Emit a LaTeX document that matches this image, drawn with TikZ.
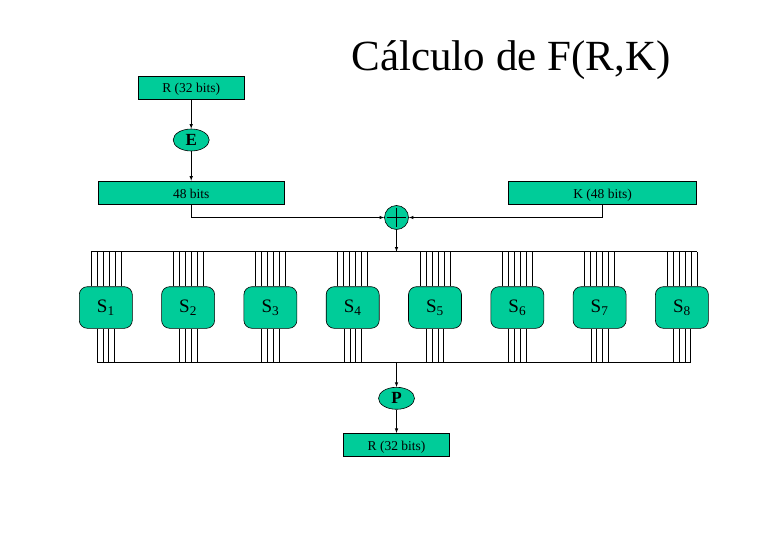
\documentclass[tikz,border=0pt]{standalone}
\usepackage{fontspec}
\setmainfont{Liberation Serif}
\usepackage{tikz}
\usepackage{color}
\usetikzlibrary{calc,shapes.geometric}
\definecolor{desgreen}{RGB}{0,204,153}

\begin{document}
\begin{tikzpicture}[x=1pt, y=-1pt, semithick, >=latex,
    bitbox/.style={draw, fill=desgreen, rectangle, minimum height=23.3pt, inner sep=0pt, text height=11pt, text depth=0pt, font=\fontsize{13.5}{16}\selectfont},
    perm/.style={draw, fill=desgreen, ellipse, minimum width=36pt, minimum height=22pt, inner sep=0pt, font=\fontsize{17}{20}\selectfont\bfseries},
    sbox/.style={draw, fill=desgreen, rounded corners=8pt, minimum width=53pt, minimum height=41.6pt, inner sep=0pt, font=\fontsize{19}{22}\selectfont}]

    \useasboundingbox (0,0) rectangle (784,548);

    \node[anchor=base] (title) at (511,70.5) {\fontsize{43}{50}\selectfont Cálculo de F(R,K)};

    % expansion of R and xor with the key
    \node[bitbox, minimum width=106.5pt] (rin) at (191.2,87.5) {R (32 bits)};
    \node[perm] (E) at (191.2,140) {E};
    \node[bitbox, minimum width=186.7pt] (b48) at (191.2,192.7) {48 bits};
    \node[bitbox, minimum width=188.4pt] (key) at (602.5,192.7) {K (48 bits)};
    \node[draw, fill=desgreen, circle, minimum size=24pt, inner sep=0pt] (xor) at (396.5,217.5) {};
    \draw[shorten <=2.5pt, shorten >=2.5pt, thick] (xor.north) -- (xor.south);
    \draw[shorten <=2.5pt, shorten >=2.5pt, thick] (xor.west) -- (xor.east);
    \path[->] (rin) edge (E)
              (E) edge (b48);
    \draw[->] (b48.south) |- (xor.west);
    \draw[->] (key.south) |- (xor.east);

    % S-boxes
    \foreach \i in {1,...,8}
      \node[sbox] (S\i) at ({105.8+(\i-1)*82.3},307.5) {S\textsubscript{\i}};
    \coordinate (busin) at (396.5,251.7);
    \coordinate (busout) at (396.5,362.7);
    \draw[->] (xor) -- (busin);
    \draw ($(S1.north |- busin)+(-15,0)$) -- ($(S8.north |- busin)+(15,0)$);
    \draw ($(S1.south |- busout)+(-8.7,0)$) -- ($(S8.south |- busout)+(8.7,0)$);
    \foreach \i in {1,...,8} {
      \foreach \d in {-15,-9,...,15}
        \draw ($(S\i.north)+(\d,0)$) -- ($(S\i.north |- busin)+(\d,0)$);
      \foreach \d in {-8.7,-2.9,2.9,8.7}
        \draw ($(S\i.south)+(\d,0)$) -- ($(S\i.south |- busout)+(\d,0)$);
    }

    % permutation
    \node[perm] (P) at (396.5,398.3) {P};
    \node[bitbox, minimum width=106pt] (rout) at (396.5,445) {R (32 bits)};
    \draw[->] (busout) -- (P);
    \path[->] (P) edge (rout);

\end{tikzpicture}
\end{document}
